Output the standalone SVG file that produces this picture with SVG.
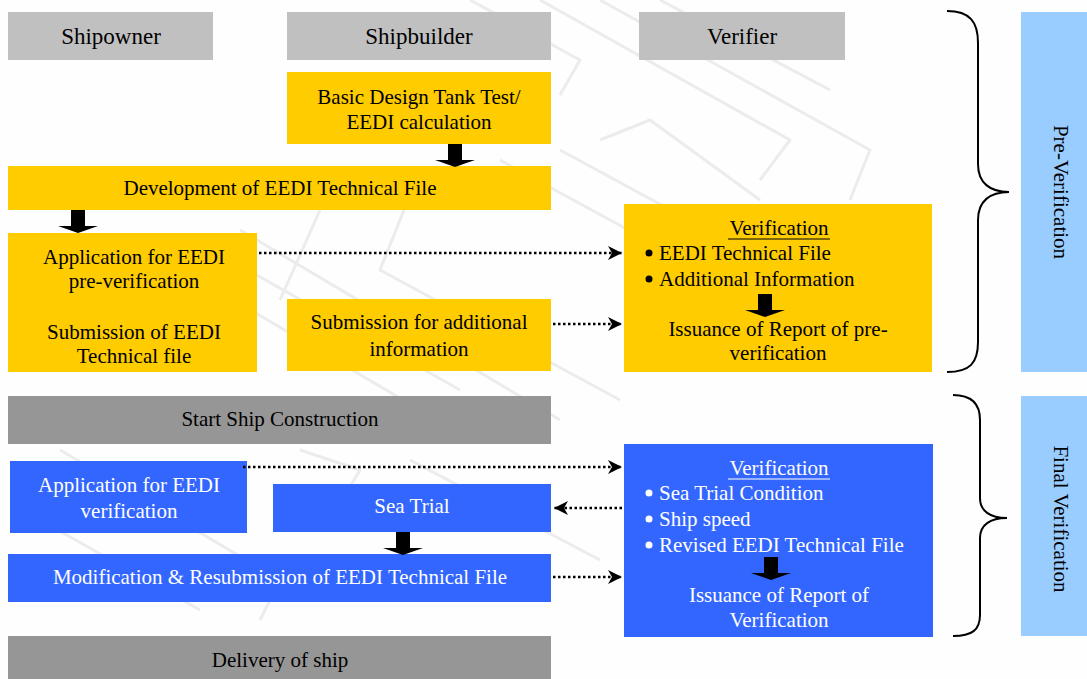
<svg xmlns="http://www.w3.org/2000/svg" width="1087" height="679" viewBox="0 0 1087 679">
  <style>
    text { font-family: "Liberation Serif", "Times New Roman", serif; font-size: 21px; text-anchor: middle; fill: #000; }
    .hdr text { font-size: 23px; }
    .w { fill: #fff; }
    .lt { text-anchor: start; }
    .lane { fill: #c0c0c0; }
    .yel { fill: #ffcc00; }
    .blu { fill: #3366ff; }
    .mile { fill: #969696; }
    .phase { fill: #99ccff; }
    .dot { fill: none; stroke: #000; stroke-width: 2.5; stroke-dasharray: 2.5 2.5; }
    .fat { fill: #000; }
    .brace { fill: none; stroke: #000; stroke-width: 2; }
    .wm { fill: none; stroke: #ececec; stroke-width: 3; stroke-linejoin: round; }
  </style>
  <defs>
    <marker id="head" markerUnits="userSpaceOnUse" markerWidth="16" markerHeight="16" refX="14" refY="7" orient="auto">
      <path d="M0,0 L14,7 L0,14 L4,7 Z" fill="#000"/>
    </marker>
    <!-- block arrow pointing down, origin at top centre -->
    <path id="down" d="M-7,0 H7 V16 H20 L0,23 L-20,16 H-7 Z"/>
  </defs>

  <rect width="1087" height="679" fill="#fefefe"/>

  <!-- faint background emblem -->
  <g id="emblem" class="wm">
    <path d="M470,0 L580,60 L560,95"/>
    <path d="M540,0 L790,140 L760,180"/>
    <path d="M600,0 L870,150 L850,200"/>
    <path d="M660,0 L830,90"/>
    <path d="M560,150 L800,280 L780,310"/>
    <path d="M600,140 L650,120 L760,200"/>
    <path d="M240,230 L560,420"/>
    <path d="M230,260 L460,390"/>
    <path d="M200,280 L420,410"/>
    <path d="M320,210 L280,300"/>
    <path d="M420,170 L380,270 L620,400"/>
    <path d="M500,160 L720,280 L700,330"/>
    <path d="M60,450 L280,580 L260,620"/>
    <path d="M40,520 L200,610"/>
    <path d="M300,450 L360,470 L330,520"/>
    <path d="M410,460 L600,560"/>
  </g>

  <!-- lane headers -->
  <g id="lane-shipowner" class="hdr"><rect class="lane" x="8" y="12" width="205" height="48"/><text x="111" y="44">Shipowner</text></g>
  <g id="lane-shipbuilder" class="hdr"><rect class="lane" x="287" y="12" width="264" height="48"/><text x="419" y="44">Shipbuilder</text></g>
  <g id="lane-verifier" class="hdr"><rect class="lane" x="639" y="12" width="206" height="48"/><text x="742" y="44">Verifier</text></g>

  <!-- pre-verification stage -->
  <g id="basic-design"><rect class="yel" x="287" y="72" width="264" height="72"/><text x="419" y="104">Basic Design Tank Test/</text><text x="419" y="129">EEDI calculation</text></g>
  <g id="development"><rect class="yel" x="8" y="166" width="543" height="44"/><text x="280" y="195">Development of EEDI Technical File</text></g>
  <g id="application-pre"><rect class="yel" x="8" y="233" width="249" height="139"/>
    <text x="134" y="264">Application for EEDI</text><text x="134" y="288">pre-verification</text>
    <text x="134" y="339">Submission of EEDI</text><text x="134" y="363">Technical file</text></g>
  <g id="submission-additional"><rect class="yel" x="287" y="299" width="264" height="72"/><text x="419" y="329">Submission for additional</text><text x="419" y="356">information</text></g>
  <g id="verification-pre"><rect class="yel" x="624" y="204" width="308" height="168"/>
    <text x="779" y="235">Verification</text><line x1="728" y1="239" x2="830" y2="239" stroke="#000" stroke-width="1.2"/>
    <circle cx="649" cy="253" r="3.5"/><text class="lt" x="659" y="260">EEDI Technical File</text>
    <circle cx="649" cy="279" r="3.5"/><text class="lt" x="659" y="286">Additional Information</text>
    <use href="#down" x="765" y="294" class="fat"/>
    <text x="778" y="336">Issuance of Report of pre-</text><text x="778" y="360">verification</text></g>

  <!-- construction and final verification stage -->
  <g id="start-construction"><rect class="mile" x="8" y="396" width="543" height="48"/><text x="280" y="426">Start Ship Construction</text></g>
  <g id="application-final"><rect class="blu" x="10" y="461" width="237" height="72"/><text class="w" x="129" y="492">Application for EEDI</text><text class="w" x="129" y="518">verification</text></g>
  <g id="sea-trial"><rect class="blu" x="273" y="484" width="278" height="48"/><text class="w" x="412" y="513">Sea Trial</text></g>
  <g id="modification"><rect class="blu" x="8" y="554" width="543" height="48"/><text class="w" x="280" y="584">Modification &amp; Resubmission of EEDI Technical File</text></g>
  <g id="verification-final"><rect class="blu" x="624" y="444" width="309" height="193"/>
    <text class="w" x="779" y="475">Verification</text><line x1="728" y1="479" x2="830" y2="479" stroke="#fff" stroke-width="1.2"/>
    <circle cx="649" cy="493" r="3.5" fill="#fff"/><text class="w lt" x="659" y="500">Sea Trial Condition</text>
    <circle cx="649" cy="519" r="3.5" fill="#fff"/><text class="w lt" x="659" y="526">Ship speed</text>
    <circle cx="649" cy="545" r="3.5" fill="#fff"/><text class="w lt" x="659" y="552">Revised EEDI Technical File</text>
    <use href="#down" x="771" y="557" class="fat"/>
    <text class="w" x="779" y="602">Issuance of Report of</text><text class="w" x="779" y="627">Verification</text></g>
  <g id="delivery"><rect class="mile" x="8" y="636" width="543" height="43"/><text x="280" y="667">Delivery of ship</text></g>

  <!-- phase labels -->
  <g id="phase-pre"><rect class="phase" x="1021" y="12" width="66" height="360"/>
    <text transform="translate(1061,192) rotate(90)" x="0" y="7">Pre-Verification</text></g>
  <g id="phase-final"><rect class="phase" x="1021" y="396" width="66" height="240"/>
    <text transform="translate(1061,519) rotate(90)" x="0" y="7">Final Verification</text></g>

  <!-- connectors -->
  <g id="connectors">
    <use href="#down" x="455" y="144" class="fat"/>
    <use href="#down" x="78" y="210" class="fat"/>
    <use href="#down" x="403" y="532" class="fat"/>
    <path class="dot" d="M259,253 H622" marker-end="url(#head)"/>
    <path class="dot" d="M553,324 H622" marker-end="url(#head)"/>
    <path class="dot" d="M243,467 H622" marker-end="url(#head)"/>
    <path class="dot" d="M622,508 H554" marker-end="url(#head)"/>
    <path class="dot" d="M553,577 H622" marker-end="url(#head)"/>
    <path class="brace" d="M947,11 C970,11 978,22 978,43 L978,164 C978,183 990,192 1009,192 C990,192 978,201 978,220 L978,342 C978,363 970,372 947,372"/>
    <path class="brace" d="M953,395 C972,395 980,404 980,420 L980,498 C980,511 990,518 1007,518 C990,518 980,525 980,538 L980,615 C980,630 972,636 953,636"/>
  </g>
</svg>
